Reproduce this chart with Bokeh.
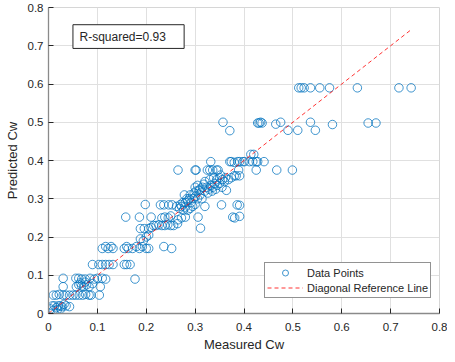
from bokeh.plotting import figure
from bokeh.models import (ColumnDataSource, Range1d, FixedTicker, Legend, LegendItem,
                          Label, BoxAnnotation)
from bokeh.embed import file_html
from bokeh.resources import INLINE

# ---- data ----
measured_cw = [
    # ~0.02
    0.004, 0.008, 0.012, 0.016, 0.020, 0.024, 0.028, 0.032, 0.036, 0.043, 0.010, 0.018, 0.025,
    # ~0.05
    0.010, 0.016, 0.022, 0.030, 0.036, 0.043, 0.050, 0.056, 0.063, 0.070, 0.076, 0.083, 0.087, 0.104,
    # ~0.07-0.08
    0.030, 0.057, 0.062, 0.068, 0.072, 0.078, 0.083, 0.090, 0.106, 0.065, 0.075,
    # ~0.09
    0.030, 0.056, 0.062, 0.068, 0.075, 0.085, 0.094, 0.100, 0.110, 0.117, 0.177,
    # ~0.13
    0.090, 0.103, 0.110, 0.117, 0.124, 0.132, 0.155, 0.160, 0.167,
    # ~0.17
    0.110, 0.117, 0.122, 0.128, 0.132, 0.155, 0.160, 0.163, 0.172, 0.180, 0.186, 0.192, 0.200, 0.205, 0.236, 0.252,
    # ~0.2
    0.188, 0.194, 0.200, 0.205,
    # ~0.225
    0.188, 0.196, 0.205, 0.210, 0.215, 0.220, 0.226, 0.232, 0.238, 0.244, 0.250, 0.256, 0.264, 0.311,
    # ~0.25
    0.158, 0.186, 0.210, 0.232, 0.238, 0.245, 0.250, 0.265, 0.272, 0.280, 0.306, 0.377, 0.381, 0.391,
    # ~0.28
    0.198, 0.229, 0.236, 0.246, 0.253, 0.262, 0.268, 0.272, 0.276, 0.280, 0.285, 0.290, 0.295, 0.300, 0.320, 0.354, 0.386, 0.391,
    # ~0.29-0.32
    0.270, 0.275, 0.280, 0.285, 0.288, 0.292, 0.296, 0.300, 0.305, 0.310, 0.314, 0.298, 0.302, 0.308, 0.283, 0.278, 0.290,
    # ~0.32-0.34
    0.310, 0.315, 0.320, 0.324, 0.328, 0.332, 0.336, 0.340, 0.345, 0.350, 0.318, 0.326, 0.335, 0.342, 0.364, 0.355, 0.300, 0.305,
    # ~0.35-0.36
    0.330, 0.338, 0.344, 0.350, 0.356, 0.362, 0.368, 0.374, 0.380, 0.384, 0.391, 0.360, 0.352, 0.320,
    # ~0.375
    0.265, 0.300, 0.302, 0.325, 0.330, 0.336, 0.344, 0.347, 0.389, 0.425, 0.467, 0.499,
    # ~0.395
    0.332, 0.371, 0.374, 0.380, 0.387, 0.391, 0.398, 0.401, 0.411, 0.418, 0.425, 0.428, 0.441,
    # ~0.415
    0.414, 0.420,
    # ~0.48-0.5
    0.357, 0.371, 0.428, 0.431, 0.434, 0.437, 0.465, 0.475, 0.490, 0.510, 0.536, 0.546, 0.581, 0.654, 0.670,
    # ~0.59
    0.512, 0.517, 0.523, 0.536, 0.555, 0.575, 0.632, 0.717, 0.742,
]
predicted_cw = [
    0.012, 0.020, 0.020, 0.015, 0.020, 0.020, 0.018, 0.024, 0.020, 0.018, 0.008, 0.010, 0.012,
    0.048, 0.048, 0.050, 0.048, 0.048, 0.048, 0.048, 0.048, 0.048, 0.048, 0.050, 0.048, 0.048, 0.048,
    0.070, 0.070, 0.075, 0.072, 0.070, 0.075, 0.070, 0.078, 0.070, 0.080, 0.082,
    0.092, 0.092, 0.092, 0.090, 0.090, 0.092, 0.090, 0.092, 0.092, 0.090, 0.090,
    0.128, 0.128, 0.128, 0.128, 0.128, 0.128, 0.128, 0.128, 0.128,
    0.170, 0.175, 0.170, 0.175, 0.170, 0.170, 0.175, 0.170, 0.170, 0.175, 0.170, 0.175, 0.170, 0.170, 0.175, 0.170,
    0.195, 0.190, 0.200, 0.205,
    0.222, 0.222, 0.222, 0.225, 0.230, 0.230, 0.232, 0.230, 0.230, 0.232, 0.230, 0.230, 0.235, 0.223,
    0.252, 0.252, 0.252, 0.250, 0.252, 0.250, 0.255, 0.245, 0.250, 0.252, 0.252, 0.252, 0.250, 0.254,
    0.285, 0.284, 0.284, 0.284, 0.284, 0.280, 0.275, 0.280, 0.270, 0.278, 0.270, 0.275, 0.280, 0.285, 0.280, 0.284, 0.284, 0.283,
    0.285, 0.290, 0.290, 0.295, 0.300, 0.290, 0.300, 0.305, 0.300, 0.310, 0.300, 0.315, 0.320, 0.322, 0.300, 0.310, 0.310,
    0.325, 0.330, 0.320, 0.330, 0.325, 0.335, 0.330, 0.340, 0.335, 0.340, 0.338, 0.315, 0.320, 0.325, 0.322, 0.330, 0.330, 0.335,
    0.350, 0.355, 0.350, 0.355, 0.350, 0.355, 0.350, 0.355, 0.360, 0.360, 0.360, 0.345, 0.362, 0.345,
    0.375, 0.375, 0.375, 0.375, 0.375, 0.375, 0.375, 0.375, 0.375, 0.375, 0.375, 0.375,
    0.397, 0.397, 0.397, 0.395, 0.397, 0.397, 0.397, 0.397, 0.397, 0.397, 0.397, 0.397, 0.397,
    0.416, 0.416,
    0.500, 0.478, 0.498, 0.498, 0.500, 0.498, 0.495, 0.500, 0.479, 0.479, 0.500, 0.479, 0.494, 0.498, 0.498,
    0.590, 0.590, 0.590, 0.590, 0.590, 0.590, 0.590, 0.590, 0.590,
]
diag_x = [0.0, 0.742]
diag_y = [0.0, 0.742]
tick_values = [0.0, 0.1, 0.2, 0.3, 0.4, 0.5, 0.6, 0.7, 0.8]
tick_labels = ["0", "0.1", "0.2", "0.3", "0.4", "0.5", "0.6", "0.7", "0.8"]
r_squared_text = "R-squared=0.93"

FONT = "Liberation Sans"
TXT = "#262626"

p = figure(width=447, height=354, output_backend="svg", toolbar_location=None,
           x_range=Range1d(0, 0.8), y_range=Range1d(0, 0.8),
           min_border_left=48, min_border_right=8, min_border_top=7, min_border_bottom=36)
p.background_fill_color = "white"
p.border_fill_color = "white"
p.outline_line_color = "#d6d6d6"
p.outline_line_width = 1

for ax in (p.xaxis[0], p.yaxis[0]):
    ax.ticker = FixedTicker(ticks=tick_values)
    ax.major_label_overrides = {v: l for v, l in zip(tick_values, tick_labels)}
    ax.minor_tick_line_color = None
    ax.major_tick_in = 5
    ax.major_tick_out = 0
    ax.major_tick_line_color = TXT
    ax.axis_line_color = "#8a8a8a"
    ax.axis_line_width = 1.3
    ax.major_label_text_font = FONT
    ax.major_label_text_font_size = "11.5px"
    ax.major_label_text_color = TXT
    ax.axis_label_text_font = FONT
    ax.axis_label_text_font_size = "13px"
    ax.axis_label_text_font_style = "normal"
    ax.axis_label_text_color = TXT

p.xaxis.axis_label = "Measured Cw"
p.yaxis.axis_label = "Predicted Cw"
p.xaxis.major_label_standoff = 9
p.yaxis.major_label_standoff = 5
p.xaxis.axis_label_standoff = 3
p.yaxis.axis_label_standoff = 5

p.grid.grid_line_color = "#e0e0e0"
p.grid.grid_line_width = 1

src = ColumnDataSource(data=dict(x=measured_cw, y=predicted_cw))
pts = p.scatter("x", "y", source=src, marker="circle", size=8.5,
                fill_color=None, line_color="#0072BD", line_alpha=0.75, line_width=1)
diag = p.line(diag_x, diag_y, line_color="#ff0000", line_alpha=0.8, line_width=1,
              line_dash="4 3")

box = BoxAnnotation(left=0.05, right=0.2775, bottom=0.693, top=0.755,
                    fill_color="white", fill_alpha=1.0,
                    line_color=TXT, line_width=1, line_alpha=1.0)
p.add_layout(box)
lab = Label(x=0.0634, y=0.724, text=r_squared_text, text_font=FONT, text_font_size="12px",
            text_color=TXT, text_baseline="middle", text_align="left")
p.add_layout(lab)

legend = Legend(items=[LegendItem(label="Data Points", renderers=[pts]),
                       LegendItem(label="Diagonal Reference Line", renderers=[diag])],
                location=(216, 15), orientation="vertical")
legend.label_text_font = FONT
legend.label_text_font_size = "11px"
legend.label_text_color = TXT
legend.border_line_color = TXT
legend.border_line_width = 1
legend.background_fill_color = "white"
legend.background_fill_alpha = 1.0
legend.padding = 2
legend.margin = 0
legend.spacing = 0
legend.label_height = 15
legend.glyph_height = 15
legend.glyph_width = 36
legend.label_standoff = 4
p.add_layout(legend)

open("out.html", "w").write(file_html(p, INLINE))
